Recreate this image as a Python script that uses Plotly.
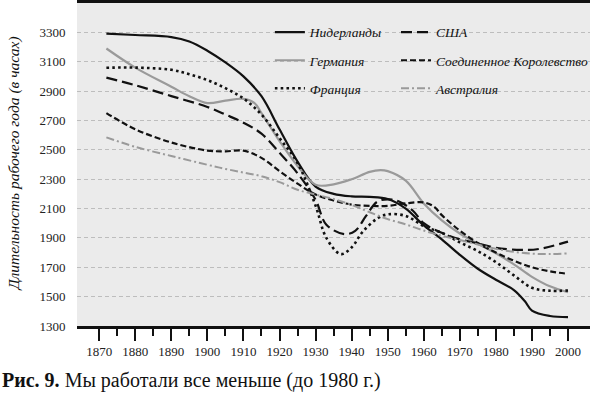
import plotly.graph_objects as go

# ---- data ----
nl_years = [1872, 1880, 1890, 1895, 1900, 1905, 1910, 1915, 1920, 1925, 1930, 1935, 1940, 1945,
            1950, 1955, 1960, 1965, 1970, 1975, 1980, 1985, 1988, 1990, 1995, 2000]
nl_hours = [3292, 3282, 3268, 3238, 3175, 3095, 3000, 2865, 2640, 2420, 2250, 2200, 2183, 2180,
            2165, 2100, 1985, 1890, 1785, 1690, 1615, 1545, 1470, 1405, 1368, 1360]

de_years = [1872, 1880, 1890, 1895, 1900, 1905, 1910, 1913, 1915, 1920, 1925, 1930, 1935, 1940,
            1945, 1948, 1950, 1955, 1960, 1965, 1970, 1975, 1980, 1985, 1990, 1995, 2000]
de_hours = [3190, 3060, 2930, 2865, 2818, 2835, 2847, 2820, 2750, 2560, 2390, 2262, 2265, 2300,
            2350, 2362, 2355, 2290, 2135, 2020, 1930, 1860, 1795, 1720, 1635, 1570, 1530]

fr_years = [1872, 1880, 1890, 1895, 1900, 1905, 1910, 1915, 1920, 1925, 1930, 1933, 1937, 1940,
            1943, 1947, 1950, 1955, 1960, 1965, 1970, 1975, 1980, 1985, 1990, 1995, 2000]
fr_hours = [3059, 3060, 3045, 3015, 2975, 2920, 2850, 2740, 2580, 2410, 2120, 1900, 1790, 1835,
            1940, 2030, 2060, 2050, 1980, 1935, 1870, 1810, 1735, 1645, 1560, 1540, 1542]

us_years = [1872, 1880, 1890, 1900, 1905, 1910, 1915, 1920, 1925, 1930, 1933, 1938, 1941, 1944,
            1947, 1950, 1953, 1957, 1960, 1965, 1970, 1975, 1980, 1987, 1992, 2000]
us_hours = [2992, 2940, 2866, 2792, 2740, 2685, 2610, 2480, 2340, 2160, 1990, 1926, 1948, 2050,
            2145, 2163, 2150, 2085, 2000, 1935, 1890, 1862, 1832, 1818, 1825, 1875]

uk_years = [1872, 1880, 1890, 1900, 1905, 1910, 1915, 1920, 1925, 1930, 1935, 1940, 1945, 1950,
            1955, 1960, 1963, 1965, 1970, 1975, 1980, 1985, 1990, 1995, 2000]
uk_hours = [2750, 2640, 2550, 2495, 2490, 2494, 2445, 2355, 2270, 2195, 2155, 2127, 2118, 2118,
            2135, 2142, 2110, 2055, 1950, 1865, 1800, 1745, 1700, 1672, 1655]

au_years = [1872, 1880, 1890, 1900, 1905, 1910, 1915, 1920, 1925, 1930, 1935, 1940, 1945, 1950,
            1955, 1960, 1965, 1970, 1975, 1980, 1985, 1990, 1995, 2000]
au_hours = [2585, 2520, 2458, 2398, 2370, 2345, 2320, 2280, 2228, 2195, 2165, 2125, 2075, 2028,
            1992, 1950, 1915, 1886, 1855, 1826, 1805, 1793, 1790, 1795]

x_ticks = [1870, 1880, 1890, 1900, 1910, 1920, 1930, 1940, 1950, 1960, 1970, 1980, 1990, 2000]
y_ticks = [1300, 1500, 1700, 1900, 2100, 2300, 2500, 2700, 2900, 3100, 3300]

y_title = "Длительность рабочего года (в часах)"
caption_head = "Рис. 9."
caption_body = "Мы работали все меньше (до 1980 г.)"

SERIF = "Liberation Serif, Times New Roman, serif"

series = [
    # name, x, y, color, width, dash, legend
    ("Нидерланды", nl_years, nl_hours, "#111111", 2.2, "solid", "legend"),
    ("Германия", de_years, de_hours, "#9a9a9a", 2.2, "solid", "legend"),
    ("Франция", fr_years, fr_hours, "#111111", 2.6, "2.6px,3.2px", "legend"),
    ("США", us_years, us_hours, "#111111", 2.2, "11px,5px", "legend2"),
    ("Соединенное Королевство", uk_years, uk_hours, "#111111", 2.2, "6px,3px", "legend2"),
    ("Австралия", au_years, au_hours, "#9a9a9a", 2.0, "8px,3px,2px,3px", "legend2"),
]

fig = go.Figure()
for name, xs, ys, color, w, dash, lg in series:
    fig.add_trace(go.Scatter(
        x=xs, y=ys, name=name, mode="lines",
        line=dict(color=color, width=w, dash=dash, shape="spline", smoothing=1.0),
        legend=lg, legendgroup=name, hoverinfo="skip",
    ))

W, H = 593, 397
ML, MR, MT, MB = 77, 0, 1, 71
pw = W - ML - MR
ph = H - MT - MB

def px_x(p):
    return (p - ML) / pw

def px_y(p):
    return 1 - (p - MT) / ph

legend_common = dict(
    bgcolor="rgba(0,0,0,0)",
    font=dict(family=SERIF, size=13.5, color="#111111", style="italic"),
    tracegroupgap=7.5,
    xanchor="left", yanchor="top",
    traceorder="grouped",
)

fig.update_layout(
    width=W, height=H,
    margin=dict(l=ML, r=MR, t=MT, b=MB),
    paper_bgcolor="white",
    plot_bgcolor="#ebebeb",
    showlegend=True,
    legend=dict(x=px_x(271), y=px_y(15), **legend_common),
    legend2=dict(x=px_x(398), y=px_y(15), **legend_common),
    font=dict(family=SERIF, color="#111111"),
    xaxis=dict(
        range=[1863.85, 2006.1],
        tickvals=x_ticks,
        ticktext=[str(v) for v in x_ticks],
        ticks="outside", ticklen=12, tickwidth=2, tickcolor="#111111",
        minor=dict(ticks="outside", ticklen=7, tickwidth=2, tickcolor="#111111",
                   tickvals=[v + 5 for v in x_ticks[:-1]]),
        showline=True, linewidth=2.5, linecolor="#111111", mirror=True,
        showgrid=False, zeroline=False,
        tickfont=dict(family=SERIF, size=13, color="#222222"),
    ),
    yaxis=dict(
        range=[1300, 3500],
        tickvals=y_ticks,
        ticktext=[str(v) for v in y_ticks],
        ticks="outside", ticklen=8, tickcolor="rgba(0,0,0,0)",
        showline=False, zeroline=False,
        showgrid=True, gridcolor="#bdbdbd", gridwidth=1, griddash="4px,3px",
        tickfont=dict(family=SERIF, size=13, color="#222222"),
    ),
    annotations=[
        dict(text=y_title, textangle=-90, xref="paper", yref="paper",
             x=px_x(14), y=px_y(163), xanchor="center", yanchor="middle",
             showarrow=False,
             font=dict(family=SERIF, size=15.5, style="italic", color="#111111")),
        dict(text="<b>" + caption_head + "</b> " + caption_body, xref="paper", yref="paper",
             x=px_x(0), y=px_y(381), xanchor="left", yanchor="middle",
             showarrow=False,
             font=dict(family=SERIF, size=20, color="#111111")),
    ],
)

fig.write_html("out.html", config={"displayModeBar": False},
               post_script="document.body.style.margin='0';")
